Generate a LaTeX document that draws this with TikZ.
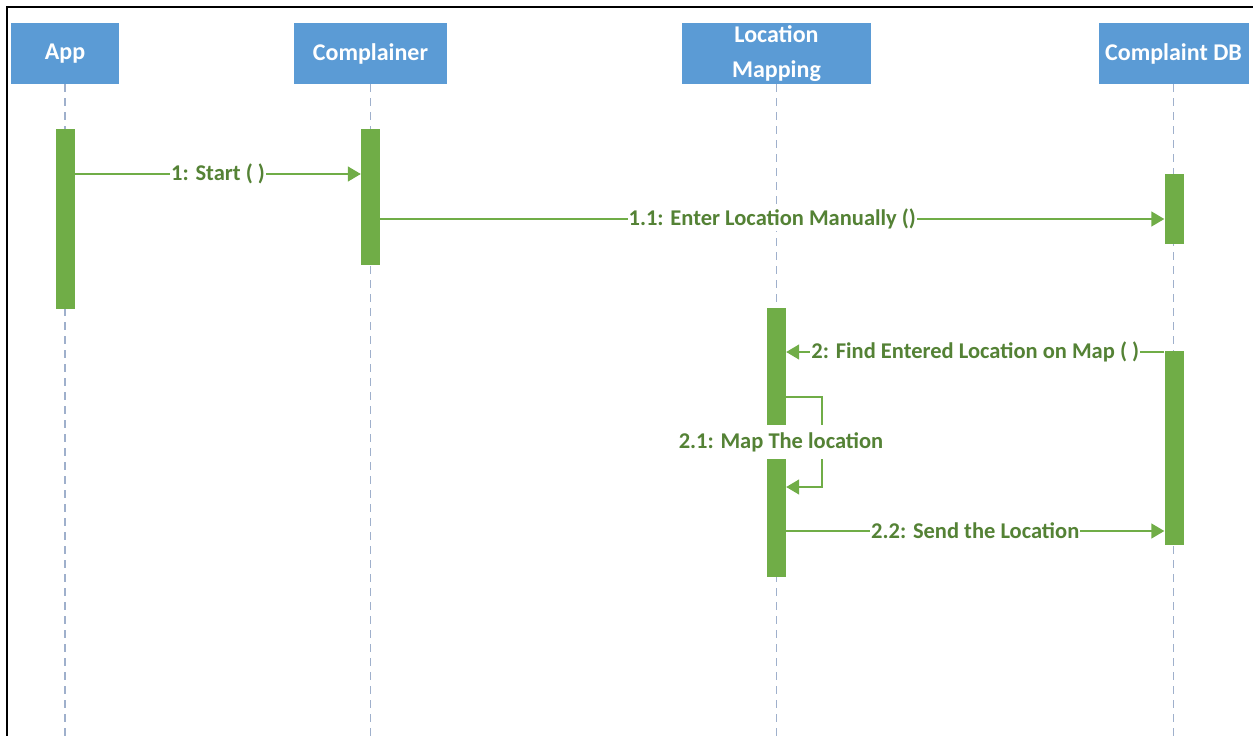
\documentclass[tikz,border=0pt]{standalone}
\usepackage{fontspec}
\setmainfont{Carlito}
\usetikzlibrary{arrows.meta}
\definecolor{hdrblue}{HTML}{5B9BD5}
\definecolor{actgreen}{HTML}{70AD47}
\definecolor{lblgreen}{HTML}{548235}
\definecolor{lifegray}{HTML}{9FB0CC}
\begin{document}
\begin{tikzpicture}[x=1pt,y=-1pt,
  header/.style={fill=hdrblue, text=white, font=\fontsize{24}{35}\selectfont\bfseries,
    minimum height=61pt, inner sep=0pt, align=center},
  lifeline/.style={draw=lifegray, line width=1.2pt, dash pattern=on 8pt off 6pt},
  actbar/.style={fill=actgreen, inner sep=0pt, minimum width=19pt},
  msg/.style={draw=actgreen, line width=1.5pt, -{Triangle[length=13pt,width=15pt]}},
  lbl/.style={fill=white, text=lblgreen, font=\fontsize{22.5}{27}\selectfont\bfseries,
    inner xsep=1pt, inner ysep=2pt}
]
\useasboundingbox (0,0) rectangle (1253,736);
% frame
\draw[line width=2pt] (7,736) -- (7,7) -- (1253,7);

% participants
\node[header, minimum width=108pt] (app) at (65,53.5) {App};
\node[header, minimum width=153pt] (cmp) at (370.5,53.5) {Complainer};
\node[header, minimum width=189pt] (loc) at (776.5,53.5) {Location\\Mapping};
\node[header, minimum width=150pt] (db)  at (1173.5,53.5) {Complaint DB};

% lifelines down to the page bottom
\coordinate (bottom) at (0,736);
\foreach \p in {app,cmp,loc,db}
  \draw[lifeline] (\p.south) -- (\p.south |- bottom);

% activation bars
\node[actbar, minimum height=180pt] (appbar) at (65.5,219) {};
\node[actbar, minimum height=136pt] (cmpbar) at (370.5,197) {};
\node[actbar, minimum height=269pt] (locbar) at (776.5,442.5) {};
\node[actbar, minimum height=70pt]  (dbbarA) at (1174,209) {};
\node[actbar, minimum height=194pt] (dbbarB) at (1174,448) {};

% message levels
\coordinate (m1)  at (0,174);
\coordinate (m11) at (0,219);
\coordinate (m2)  at (0,352);
\coordinate (m21a) at (0,397);
\coordinate (m21b) at (0,487);
\coordinate (m22) at (0,531);
\coordinate (selfx) at (822,0);

% messages
\draw[msg] (appbar.east |- m1) -- node[lbl] {1: Start ( )} (cmpbar.west |- m1);
\draw[msg] (cmpbar.east |- m11) -- node[lbl] {1.1: Enter Location Manually ()} (dbbarA.west |- m11);
\draw[msg] (dbbarB.west |- m2) -- node[lbl] {2: Find Entered Location on Map ( )} (locbar.east |- m2);
\draw[msg] (locbar.east |- m21a) -- (selfx |- m21a) -- (selfx |- m21b) -- (locbar.east |- m21b);
\node[lbl, minimum height=34pt] (selflbl) at (781,442) {2.1: Map The location};
\draw[msg] (locbar.east |- m22) -- node[lbl] {2.2: Send the Location} (dbbarB.west |- m22);
\end{tikzpicture}
\end{document}
